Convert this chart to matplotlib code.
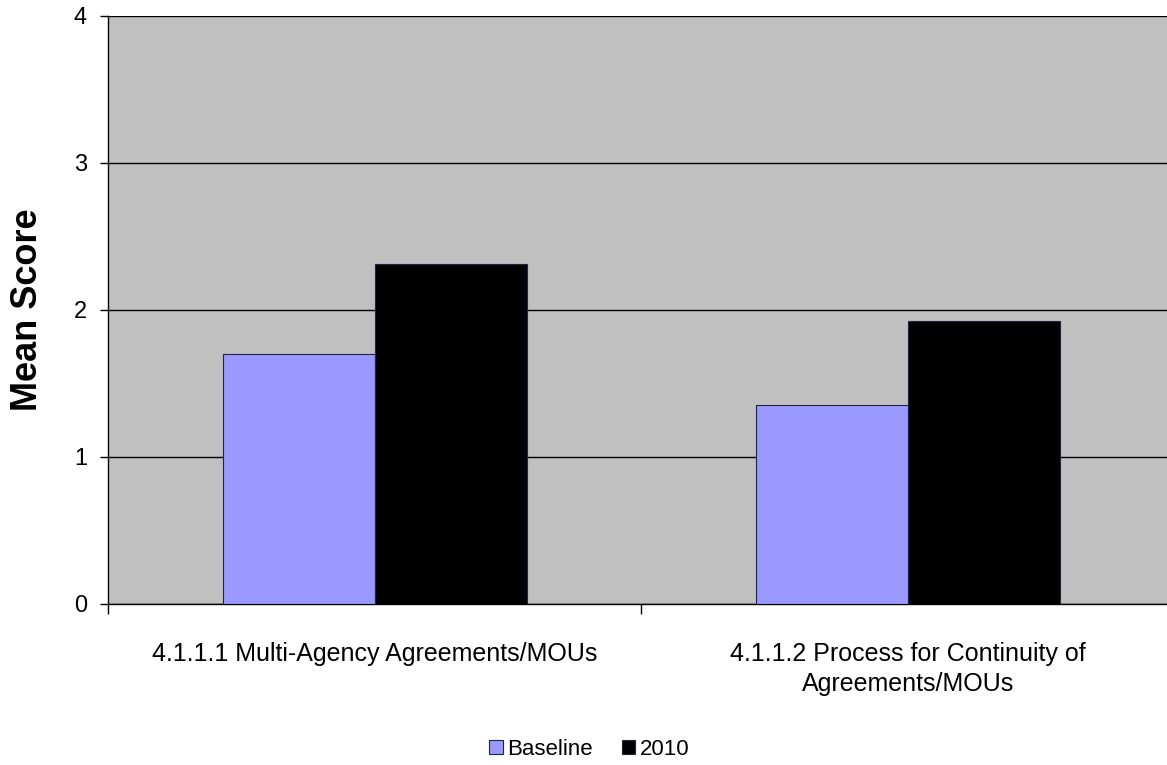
import matplotlib
matplotlib.use("Agg")
import matplotlib.pyplot as plt
import numpy as np

CATEGORIES = ["4.1.1.1 Multi-Agency Agreements/MOUs",
              "4.1.1.2 Process for Continuity of\nAgreements/MOUs"]
SERIES = ["Baseline", "2010"]
BASELINE = [1.70, 1.35]
Y2010 = [2.31, 1.92]
COLORS = ["#9999FF", "#000000"]
YTICKS = [0, 1, 2, 3, 4]

plt.rcParams["font.family"] = ["Liberation Sans", "DejaVu Sans"]

fig = plt.figure(figsize=(11.67, 7.65), dpi=100)
ax = fig.add_axes([0.0925, 0.211, 0.914, 0.7685])
ax.set_facecolor("#C0C0C0")

x = np.arange(len(CATEGORIES))
w = 0.285
for k, (vals, lab, col) in enumerate(zip([BASELINE, Y2010], SERIES, COLORS)):
    ax.bar(x + (k - 0.5) * w, vals, width=w, color=col, edgecolor="#222244",
           linewidth=0.8, label=lab, zorder=3)

ax.set_xlim(-0.5, len(CATEGORIES) - 0.5)
ax.set_ylim(0, 4)
ax.set_yticks(YTICKS)
ax.yaxis.grid(True, color="black", linewidth=1.0, zorder=1)
ax.set_axisbelow(True)
ax.tick_params(axis="y", labelsize=17, length=6, width=1, pad=9)

ax.set_xticks(x)
ax.set_xticklabels(CATEGORIES, fontsize=18, linespacing=1.3)
ax.tick_params(axis="x", which="major", length=0, pad=28)
ax.set_xticks(np.arange(-0.5, len(CATEGORIES)), minor=True)
ax.tick_params(axis="x", which="minor", length=7, width=1)

for s in ["top", "right"]:
    ax.spines[s].set_visible(False)
ax.spines["left"].set_linewidth(1)
ax.spines["bottom"].set_linewidth(1)

fig.text(28 / 1167, 1 - 310 / 765, "Mean Score", rotation=90, ha="center",
         va="center", fontsize=26, fontweight="bold")

fig.legend(loc="center", bbox_to_anchor=(0.505, 0.02), ncol=2, frameon=False,
           fontsize=16, handlelength=0.6, handleheight=0.6, handletextpad=0.2,
           columnspacing=1.3)

fig.savefig("out.png", dpi=100)
